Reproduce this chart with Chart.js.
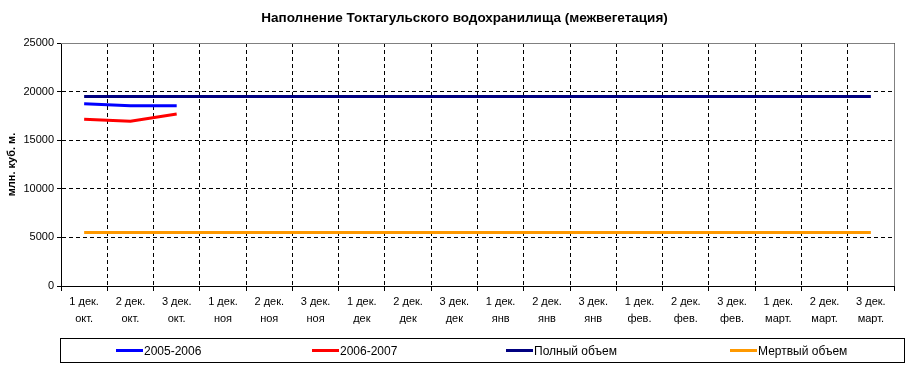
<!DOCTYPE html>
<html>
<head>
<meta charset="utf-8">
<script src="https://cdn.jsdelivr.net/npm/chart.js@4/dist/chart.umd.min.js"></script>
<style>
    body { margin: 0; background: #fff; }
    #wrap { position: relative; width: 922px; height: 369px; font-family: "Liberation Sans", Arial, sans-serif; }
    #title { position: absolute; left: 0; top: 10px; width: 929px; text-align: center; font-size: 13.5px; font-weight: bold; line-height: 16px; color: #000; }
    #legend { position: absolute; left: 60px; top: 338px; width: 843px; height: 23px; border: 1px solid #000; }
    .item { position: absolute; top: 0; height: 23px; display: flex; align-items: center; font-size: 12px; color: #000; }
    .swatch { display: inline-block; width: 27px; height: 3px; margin-right: 1px; }
</style>
</head>
<body>
<div id="wrap">
    <canvas id="chart" width="922" height="369"></canvas>
    <div id="title"></div>
    <div id="legend"></div>
</div>
<script>
// --- DATA ---
const chartTitle = 'Наполнение Токтагульского водохранилища (межвегетация)';
const decades = ['1 дек.', '2 дек.', '3 дек.'];
const months = ['окт.', 'ноя', 'дек', 'янв', 'фев.', 'март.'];
const yTicks = [0, 5000, 10000, 15000, 20000, 25000];

const series2005 = [18750, 18550, 18550, null, null, null, null, null, null, null, null, null, null, null, null, null, null, null];
const series2006 = [17150, 16950, 17700, null, null, null, null, null, null, null, null, null, null, null, null, null, null, null];
const fullVolume = [19500, 19500, 19500, 19500, 19500, 19500, 19500, 19500, 19500, 19500, 19500, 19500, 19500, 19500, 19500, 19500, 19500, 19500];
const deadVolume = [5500, 5500, 5500, 5500, 5500, 5500, 5500, 5500, 5500, 5500, 5500, 5500, 5500, 5500, 5500, 5500, 5500, 5500];

const seriesNames = ['2005-2006', '2006-2007', 'Полный объем', 'Мертвый объем'];
const seriesColors = ['#0000ff', '#ff0000', '#000080', '#ff9900'];
const legendLefts = [55, 251, 445, 669]; // line start inside the legend box

// labels: two lines each, "1 дек." / "окт."
const labels = [];
months.forEach(m => decades.forEach(d => labels.push([d, m])));

const FONT = '"Liberation Sans", Arial, sans-serif';
const NONE = 'rgba(0,0,0,0)';

document.getElementById('title').textContent = chartTitle;

// grey frame on top and right of the plot area (like Excel)
const plotFrame = {
    id: 'plotFrame',
    beforeDatasetsDraw(chart) {
        const { ctx, chartArea: a } = chart;
        ctx.save();
        ctx.strokeStyle = '#808080';
        ctx.lineWidth = 1;
        ctx.beginPath();
        ctx.moveTo(a.left, Math.round(a.top) + 0.5);
        ctx.lineTo(Math.round(a.right) + 0.5, Math.round(a.top) + 0.5);
        ctx.lineTo(Math.round(a.right) + 0.5, a.bottom);
        ctx.stroke();
        ctx.restore();
    }
};

const values = [series2005, series2006, fullVolume, deadVolume];

const chart = new Chart(document.getElementById('chart'), {
    type: 'line',
    data: {
        labels: labels,
        datasets: values.map((v, i) => ({
            label: seriesNames[i],
            data: v,
            borderColor: seriesColors[i],
            backgroundColor: seriesColors[i],
            borderWidth: 3,
            pointRadius: 0,
            tension: 0,
            spanGaps: false
        }))
    },
    options: {
        responsive: false,
        animation: false,
        layout: { padding: { left: 0, right: 28, top: 43, bottom: 38 } },
        plugins: {
            legend: { display: false },
            tooltip: { enabled: false },
            title: { display: false }
        },
        scales: {
            x: {
                offset: true,
                grid: {
                    offset: true,
                    color: ctx => (ctx.index === 0 || ctx.index === labels.length) ? NONE : '#000',
                    tickColor: '#000',
                    tickLength: 5,
                    lineWidth: 1
                },
                border: { display: true, color: '#000', width: 1, dash: [4, 3] },
                ticks: {
                    color: '#000',
                    font: { family: FONT, size: 11, lineHeight: 1.55 },
                    padding: 2,
                    maxRotation: 0,
                    autoSkip: false
                },
                afterFit: s => { s.height = 45; }
            },
            y: {
                min: 0,
                max: 25000,
                afterBuildTicks: s => { s.ticks = yTicks.map(v => ({ value: v })); },
                grid: {
                    color: ctx => (ctx.tick && (ctx.tick.value === 25000 || ctx.tick.value === 0)) ? NONE : '#000',
                    tickColor: '#000',
                    tickLength: 4,
                    lineWidth: 1
                },
                border: { display: true, color: '#000', width: 1, dash: [4, 3] },
                ticks: {
                    color: '#000',
                    font: { family: FONT, size: 11 },
                    padding: 3,
                    callback: v => String(v)
                },
                title: {
                    display: true,
                    text: 'млн. куб. м.',
                    color: '#000',
                    font: { family: FONT, size: 11, weight: 'bold' },
                    padding: { top: 5, bottom: 0 }
                },
                afterFit: s => { s.width = 61; }
            }
        }
    },
    plugins: [plotFrame]
});

// legend as html, one entry per series
const legend = document.getElementById('legend');
seriesNames.forEach((name, i) => {
    const item = document.createElement('div');
    item.className = 'item';
    item.style.left = legendLefts[i] + 'px';
    const sw = document.createElement('span');
    sw.className = 'swatch';
    sw.style.background = seriesColors[i];
    const txt = document.createElement('span');
    txt.textContent = name;
    item.appendChild(sw);
    item.appendChild(txt);
    legend.appendChild(item);
});
</script>
</body>
</html>
